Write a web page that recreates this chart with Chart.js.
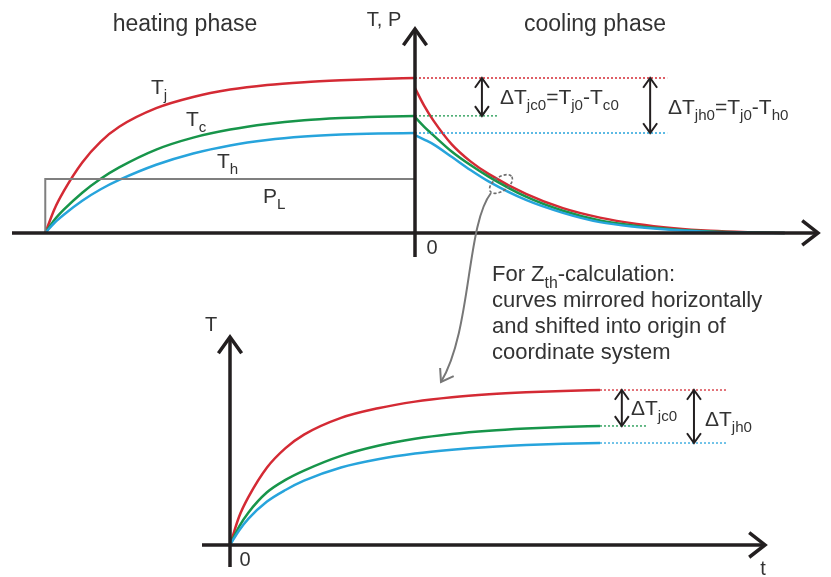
<!DOCTYPE html>
<html lang="en">
<head>
<meta charset="UTF-8" />
<title>Heating and cooling curves, Zth</title>
<script src="https://cdn.jsdelivr.net/npm/chart.js"></script>
<style>
  body { margin: 0; background: #fff; }
  #wrap { position: relative; width: 831px; height: 577px; }
  #wrap canvas { position: absolute; left: 0; top: 0; }
</style>
</head>
<body>
<div id="wrap">
  <canvas id="phaseChart" width="831" height="577"></canvas>
  <canvas id="zthChart" width="831" height="577"></canvas>
</div>

<script>
// time in units of the thermal time constant, temperature normalised to Tj0
const heatTime = [-10, -9.75, -9.5, -9, -8.5, -8, -7, -6, -5, -4, -3, -2, -1, 0];
const heatTj = [0, 0.155, 0.27, 0.455, 0.59, 0.685, 0.805, 0.877, 0.925, 0.955, 0.973, 0.985, 0.994, 1.0];
const heatTc = [0, 0.085, 0.15, 0.26, 0.35, 0.423, 0.538, 0.615, 0.667, 0.703, 0.727, 0.741, 0.75, 0.755];
const heatTh = [0, 0.066, 0.118, 0.208, 0.282, 0.342, 0.44, 0.513, 0.565, 0.6, 0.622, 0.635, 0.642, 0.645];

const coolTime = [0, 0.25, 0.5, 1, 1.5, 2, 3, 4, 5, 6, 7, 8, 9, 10];
const coolTj = [0.935, 0.82, 0.725, 0.57, 0.462, 0.38, 0.252, 0.16, 0.099, 0.058, 0.031, 0.014, 0.005, 0];
const coolTc = [0.748, 0.685, 0.63, 0.524, 0.438, 0.362, 0.234, 0.143, 0.08, 0.045, 0.023, 0.01, 0.003, 0];
const coolTh = [0.632, 0.603, 0.572, 0.49, 0.406, 0.331, 0.213, 0.13, 0.07, 0.039, 0.019, 0.007, 0.002, 0];

// load pulse P_L
const powerTime = [-10, -10, 0];
const powerLevel = [0, 0.348, 0.348];

// Tj0, Tc0, Th0 at switch-off and how far the dotted guides run
const startLevels = [1.0, 0.755, 0.645];
const levelEnds = [6.82, 2.25, 6.82];
const deltaTimes = [1.81, 6.36];

// mirrored cooling curves used for Zth
const zthTime = [0, 0.25, 0.5, 1, 1.5, 2, 3, 4, 5, 6, 7, 8, 9, 10];
const zthTj = [0, 0.185, 0.31, 0.5, 0.625, 0.712, 0.82, 0.882, 0.925, 0.953, 0.972, 0.985, 0.994, 1.0];
const zthTc = [0, 0.12, 0.21, 0.34, 0.42, 0.48, 0.575, 0.64, 0.685, 0.716, 0.737, 0.751, 0.761, 0.768];
const zthTh = [0, 0.095, 0.17, 0.28, 0.355, 0.415, 0.5, 0.553, 0.59, 0.615, 0.633, 0.645, 0.653, 0.658];
const zthLevels = [1.0, 0.768, 0.658];
const zthLevelStart = 10;
const zthLevelEnds = [13.43, 11.27, 13.43];
const zthDeltaTimes = [10.59, 12.54];

const RED = '#d42a34', GREEN = '#17954a', BLUE = '#27a4dc';
const INK = '#231f20', TEXT = '#333333';
const FONT = "'Liberation Sans', Arial, sans-serif";

const pts = (xs, ys) => xs.map((x, i) => ({ x, y: ys[i] }));

function curve(data, color) {
  return { data, borderColor: color, borderWidth: 2.5, pointRadius: 0,
           cubicInterpolationMode: 'monotone', fill: false };
}
function dotted(x1, x2, y, color) {
  return { data: [{ x: x1, y }, { x: x2, y }], borderColor: color, borderWidth: 1.3,
           borderDash: [2, 2], pointRadius: 0, tension: 0, fill: false };
}

function chevron(ctx, x, y, ang, len, spread) {
  ctx.beginPath();
  ctx.moveTo(x - len * Math.cos(ang - spread), y - len * Math.sin(ang - spread));
  ctx.lineTo(x, y);
  ctx.lineTo(x - len * Math.cos(ang + spread), y - len * Math.sin(ang + spread));
  ctx.stroke();
}

// text with subscripts: parts = [[str, isSub], ...], x = left edge, y = cap middle
function rich(ctx, x, y, parts, size, color) {
  const base = y + size * 0.36;
  ctx.fillStyle = color || TEXT;
  ctx.textBaseline = 'alphabetic';
  ctx.textAlign = 'left';
  parts.forEach(([s, sub]) => {
    const fs = sub ? size * 0.72 : size;
    ctx.font = fs + 'px ' + FONT;
    ctx.fillText(s, x, sub ? base + size * 0.3 : base);
    x += ctx.measureText(s).width;
  });
}

// arrow-headed axes through the origin plus double arrows for the ΔT marks
const arrowAxes = {
  id: 'arrowAxes',
  afterDatasetsDraw(chart, args, opts) {
    const { ctx, chartArea: a, scales: { x, y } } = chart;
    const x0 = x.getPixelForValue(0), y0 = y.getPixelForValue(0);
    ctx.save();
    ctx.strokeStyle = INK;
    ctx.lineJoin = 'miter';
    ctx.lineWidth = 3.5;
    ctx.beginPath();
    ctx.moveTo(a.left, y0); ctx.lineTo(a.right - 2, y0);
    ctx.moveTo(x0, a.bottom); ctx.lineTo(x0, a.top + 2);
    ctx.stroke();
    chevron(ctx, a.right, y0, 0, 20, 0.66);
    chevron(ctx, x0, a.top, -Math.PI / 2, 20, 0.62);

    ctx.lineWidth = 2;
    (opts.deltas || []).forEach(d => {
      const px = x.getPixelForValue(d.t);
      const ya = y.getPixelForValue(d.from), yb = y.getPixelForValue(d.to);
      ctx.beginPath();
      ctx.moveTo(px, ya + 1); ctx.lineTo(px, yb - 1);
      ctx.stroke();
      chevron(ctx, px, ya, -Math.PI / 2, 12, 0.62);
      chevron(ctx, px, yb, Math.PI / 2, 12, 0.62);
    });
    ctx.restore();
  }
};

const phaseLabels = {
  id: 'phaseLabels',
  afterDraw(chart) {
    const ctx = chart.ctx;
    ctx.save();
    ctx.fillStyle = TEXT;
    ctx.font = '23px ' + FONT;
    ctx.textAlign = 'center';
    ctx.textBaseline = 'middle';
    ctx.fillText('heating phase', 185, 25);
    ctx.fillText('cooling phase', 595, 25);
    ctx.font = '20px ' + FONT;
    ctx.fillText('T, P', 384, 20);
    ctx.fillText('0', 432, 248);

    rich(ctx, 151, 86, [['T', 0], ['j', 1]], 21);
    rich(ctx, 186, 118, [['T', 0], ['c', 1]], 21);
    rich(ctx, 217, 160, [['T', 0], ['h', 1]], 21);
    rich(ctx, 263, 195, [['P', 0], ['L', 1]], 21);

    rich(ctx, 500, 96, [['ΔT', 0], ['jc0', 1], ['=T', 0], ['j0', 1], ['-T', 0], ['c0', 1]], 21);
    rich(ctx, 668, 106, [['ΔT', 0], ['jh0', 1], ['=T', 0], ['j0', 1], ['-T', 0], ['h0', 1]], 21);

    rich(ctx, 492, 273, [['For Z', 0], ['th', 1], ['-calculation:', 0]], 22);
    rich(ctx, 492, 299, [['curves mirrored horizontally', 0]], 22);
    rich(ctx, 492, 325, [['and shifted into origin of', 0]], 22);
    rich(ctx, 492, 351, [['coordinate system', 0]], 22);

    // dashed ring on the cooling curves and the pointer down to the Zth plot
    ctx.strokeStyle = '#6d6d6d';
    ctx.lineWidth = 1.6;
    ctx.setLineDash([3, 2]);
    ctx.beginPath();
    ctx.ellipse(501, 184, 13, 7, -0.6, 0, Math.PI * 2);
    ctx.stroke();
    ctx.setLineDash([]);
    ctx.strokeStyle = '#777';
    ctx.lineWidth = 2;
    ctx.beginPath();
    ctx.moveTo(491, 193);
    ctx.bezierCurveTo(466, 225, 472, 330, 441, 382);
    ctx.stroke();
    chevron(ctx, 441, 382, Math.atan2(52, -31), 14, 0.6);
    ctx.restore();
  }
};

const zthLabels = {
  id: 'zthLabels',
  afterDraw(chart) {
    const ctx = chart.ctx;
    ctx.save();
    ctx.fillStyle = TEXT;
    ctx.font = '20px ' + FONT;
    ctx.textAlign = 'center';
    ctx.textBaseline = 'middle';
    ctx.fillText('T', 211, 325);
    ctx.fillText('0', 245, 560);
    ctx.fillText('t', 763, 569);
    rich(ctx, 631, 407, [['ΔT', 0], ['jc0', 1]], 21);
    rich(ctx, 705, 418, [['ΔT', 0], ['jh0', 1]], 21);
    ctx.restore();
  }
};

const hidden = { display: false };

new Chart(document.getElementById('phaseChart'), {
  type: 'scatter',
  data: {
    datasets: [
      { data: pts(powerTime, powerLevel), borderColor: '#7f7f7f', borderWidth: 2, pointRadius: 0, tension: 0 },
      dotted(0, levelEnds[0], startLevels[0], RED),
      dotted(0, levelEnds[1], startLevels[1], GREEN),
      dotted(0, levelEnds[2], startLevels[2], BLUE),
      curve(pts(heatTime, heatTh), BLUE),
      curve(pts(heatTime, heatTc), GREEN),
      curve(pts(heatTime, heatTj), RED),
      curve(pts(coolTime, coolTh), BLUE),
      curve(pts(coolTime, coolTc), GREEN),
      curve(pts(coolTime, coolTj), RED)
    ]
  },
  options: {
    responsive: false,
    animation: false,
    showLine: true,
    layout: { padding: { left: 12, right: 13, top: 29, bottom: 320 } },
    scales: {
      x: { type: 'linear', min: -10.9, max: 10.9, ...hidden },
      y: { type: 'linear', min: -0.155, max: 1.316, ...hidden }
    },
    plugins: {
      legend: hidden,
      tooltip: { enabled: false },
      arrowAxes: {
        deltas: [
          { t: deltaTimes[0], from: startLevels[0], to: startLevels[1] },
          { t: deltaTimes[1], from: startLevels[0], to: startLevels[2] }
        ]
      }
    }
  },
  plugins: [arrowAxes, phaseLabels]
});

new Chart(document.getElementById('zthChart'), {
  type: 'scatter',
  data: {
    datasets: [
      dotted(zthLevelStart, zthLevelEnds[0], zthLevels[0], RED),
      dotted(zthLevelStart, zthLevelEnds[1], zthLevels[1], GREEN),
      dotted(zthLevelStart, zthLevelEnds[2], zthLevels[2], BLUE),
      curve(pts(zthTime, zthTh), BLUE),
      curve(pts(zthTime, zthTc), GREEN),
      curve(pts(zthTime, zthTj), RED)
    ]
  },
  options: {
    responsive: false,
    animation: false,
    showLine: true,
    layout: { padding: { left: 202, right: 66, top: 337, bottom: 10 } },
    scales: {
      x: { type: 'linear', min: -0.757, max: 14.46, ...hidden },
      y: { type: 'linear', min: -0.142, max: 1.342, ...hidden }
    },
    plugins: {
      legend: hidden,
      tooltip: { enabled: false },
      arrowAxes: {
        deltas: [
          { t: zthDeltaTimes[0], from: zthLevels[0], to: zthLevels[1] },
          { t: zthDeltaTimes[1], from: zthLevels[0], to: zthLevels[2] }
        ]
      }
    }
  },
  plugins: [arrowAxes, zthLabels]
});
</script>
</body>
</html>
